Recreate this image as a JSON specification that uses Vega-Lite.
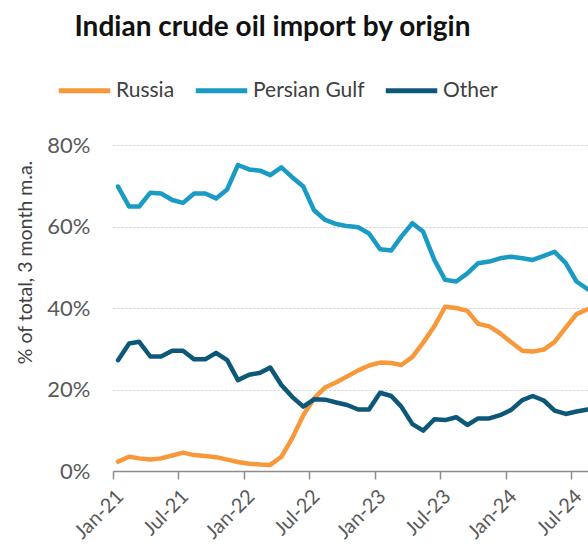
{
  "$schema": "https://vega.github.io/schema/vega-lite/v6.json",
  "width": 475,
  "height": 326,
  "autosize": {"type": "none"},
  "padding": {"left": 113, "top": 145, "right": 0, "bottom": 79},
  "background": "white",
  "config": {"view": {"stroke": null}, "font": "Lato"},
  "title": {"text": "Indian crude oil import by origin", "anchor": "middle", "frame": "group", "dx": -78, "offset": 20, "fontSize": 28, "font": "Lato", "fontWeight": "bold", "color": "#111111"},
  "datasets": {
    "series": [
      {"date": "2021-01-15", "origin": "Russia", "share": 2.3},
      {"date": "2021-02-15", "origin": "Russia", "share": 3.5},
      {"date": "2021-03-15", "origin": "Russia", "share": 3.1},
      {"date": "2021-04-15", "origin": "Russia", "share": 2.8},
      {"date": "2021-05-15", "origin": "Russia", "share": 3.1},
      {"date": "2021-06-15", "origin": "Russia", "share": 3.8},
      {"date": "2021-07-15", "origin": "Russia", "share": 4.5},
      {"date": "2021-08-15", "origin": "Russia", "share": 3.9},
      {"date": "2021-09-15", "origin": "Russia", "share": 3.7},
      {"date": "2021-10-15", "origin": "Russia", "share": 3.4},
      {"date": "2021-11-15", "origin": "Russia", "share": 2.8},
      {"date": "2021-12-15", "origin": "Russia", "share": 2.2},
      {"date": "2022-01-15", "origin": "Russia", "share": 1.8},
      {"date": "2022-02-15", "origin": "Russia", "share": 1.6},
      {"date": "2022-03-15", "origin": "Russia", "share": 1.5},
      {"date": "2022-04-15", "origin": "Russia", "share": 3.5},
      {"date": "2022-05-15", "origin": "Russia", "share": 8.0},
      {"date": "2022-06-15", "origin": "Russia", "share": 13.7},
      {"date": "2022-07-15", "origin": "Russia", "share": 17.8},
      {"date": "2022-08-15", "origin": "Russia", "share": 20.5},
      {"date": "2022-09-15", "origin": "Russia", "share": 21.8},
      {"date": "2022-10-15", "origin": "Russia", "share": 23.2},
      {"date": "2022-11-15", "origin": "Russia", "share": 24.7},
      {"date": "2022-12-15", "origin": "Russia", "share": 25.9},
      {"date": "2023-01-15", "origin": "Russia", "share": 26.6},
      {"date": "2023-02-15", "origin": "Russia", "share": 26.5},
      {"date": "2023-03-15", "origin": "Russia", "share": 26.0},
      {"date": "2023-04-15", "origin": "Russia", "share": 28.0},
      {"date": "2023-05-15", "origin": "Russia", "share": 31.5},
      {"date": "2023-06-15", "origin": "Russia", "share": 35.5},
      {"date": "2023-07-15", "origin": "Russia", "share": 40.3},
      {"date": "2023-08-15", "origin": "Russia", "share": 40.0},
      {"date": "2023-09-15", "origin": "Russia", "share": 39.3},
      {"date": "2023-10-15", "origin": "Russia", "share": 36.1},
      {"date": "2023-11-15", "origin": "Russia", "share": 35.5},
      {"date": "2023-12-15", "origin": "Russia", "share": 33.8},
      {"date": "2024-01-15", "origin": "Russia", "share": 31.6},
      {"date": "2024-02-15", "origin": "Russia", "share": 29.5},
      {"date": "2024-03-15", "origin": "Russia", "share": 29.3},
      {"date": "2024-04-15", "origin": "Russia", "share": 29.8},
      {"date": "2024-05-15", "origin": "Russia", "share": 31.7},
      {"date": "2024-06-15", "origin": "Russia", "share": 35.2},
      {"date": "2024-07-15", "origin": "Russia", "share": 38.5},
      {"date": "2024-08-15", "origin": "Russia", "share": 39.7},
      {"date": "2021-01-15", "origin": "Persian Gulf", "share": 69.8},
      {"date": "2021-02-15", "origin": "Persian Gulf", "share": 64.9},
      {"date": "2021-03-15", "origin": "Persian Gulf", "share": 64.9},
      {"date": "2021-04-15", "origin": "Persian Gulf", "share": 68.3},
      {"date": "2021-05-15", "origin": "Persian Gulf", "share": 68.1},
      {"date": "2021-06-15", "origin": "Persian Gulf", "share": 66.5},
      {"date": "2021-07-15", "origin": "Persian Gulf", "share": 65.8},
      {"date": "2021-08-15", "origin": "Persian Gulf", "share": 68.1},
      {"date": "2021-09-15", "origin": "Persian Gulf", "share": 68.1},
      {"date": "2021-10-15", "origin": "Persian Gulf", "share": 66.9},
      {"date": "2021-11-15", "origin": "Persian Gulf", "share": 69.1},
      {"date": "2021-12-15", "origin": "Persian Gulf", "share": 75.1},
      {"date": "2022-01-15", "origin": "Persian Gulf", "share": 74.0},
      {"date": "2022-02-15", "origin": "Persian Gulf", "share": 73.7},
      {"date": "2022-03-15", "origin": "Persian Gulf", "share": 72.6},
      {"date": "2022-04-15", "origin": "Persian Gulf", "share": 74.5},
      {"date": "2022-05-15", "origin": "Persian Gulf", "share": 72.1},
      {"date": "2022-06-15", "origin": "Persian Gulf", "share": 69.8},
      {"date": "2022-07-15", "origin": "Persian Gulf", "share": 64.0},
      {"date": "2022-08-15", "origin": "Persian Gulf", "share": 61.6},
      {"date": "2022-09-15", "origin": "Persian Gulf", "share": 60.6},
      {"date": "2022-10-15", "origin": "Persian Gulf", "share": 60.1},
      {"date": "2022-11-15", "origin": "Persian Gulf", "share": 59.8},
      {"date": "2022-12-15", "origin": "Persian Gulf", "share": 58.3},
      {"date": "2023-01-15", "origin": "Persian Gulf", "share": 54.4},
      {"date": "2023-02-15", "origin": "Persian Gulf", "share": 54.1},
      {"date": "2023-03-15", "origin": "Persian Gulf", "share": 57.5},
      {"date": "2023-04-15", "origin": "Persian Gulf", "share": 60.8},
      {"date": "2023-05-15", "origin": "Persian Gulf", "share": 58.7},
      {"date": "2023-06-15", "origin": "Persian Gulf", "share": 51.8},
      {"date": "2023-07-15", "origin": "Persian Gulf", "share": 46.9},
      {"date": "2023-08-15", "origin": "Persian Gulf", "share": 46.5},
      {"date": "2023-09-15", "origin": "Persian Gulf", "share": 48.5},
      {"date": "2023-10-15", "origin": "Persian Gulf", "share": 51.0},
      {"date": "2023-11-15", "origin": "Persian Gulf", "share": 51.4},
      {"date": "2023-12-15", "origin": "Persian Gulf", "share": 52.2},
      {"date": "2024-01-15", "origin": "Persian Gulf", "share": 52.6},
      {"date": "2024-02-15", "origin": "Persian Gulf", "share": 52.2},
      {"date": "2024-03-15", "origin": "Persian Gulf", "share": 51.8},
      {"date": "2024-04-15", "origin": "Persian Gulf", "share": 52.8},
      {"date": "2024-05-15", "origin": "Persian Gulf", "share": 53.8},
      {"date": "2024-06-15", "origin": "Persian Gulf", "share": 51.0},
      {"date": "2024-07-15", "origin": "Persian Gulf", "share": 46.5},
      {"date": "2024-08-15", "origin": "Persian Gulf", "share": 44.6},
      {"date": "2021-01-15", "origin": "Other", "share": 27.2},
      {"date": "2021-02-15", "origin": "Other", "share": 31.3},
      {"date": "2021-03-15", "origin": "Other", "share": 31.7},
      {"date": "2021-04-15", "origin": "Other", "share": 28.1},
      {"date": "2021-05-15", "origin": "Other", "share": 28.1},
      {"date": "2021-06-15", "origin": "Other", "share": 29.5},
      {"date": "2021-07-15", "origin": "Other", "share": 29.5},
      {"date": "2021-08-15", "origin": "Other", "share": 27.4},
      {"date": "2021-09-15", "origin": "Other", "share": 27.4},
      {"date": "2021-10-15", "origin": "Other", "share": 29.0},
      {"date": "2021-11-15", "origin": "Other", "share": 27.2},
      {"date": "2021-12-15", "origin": "Other", "share": 22.3},
      {"date": "2022-01-15", "origin": "Other", "share": 23.6},
      {"date": "2022-02-15", "origin": "Other", "share": 24.1},
      {"date": "2022-03-15", "origin": "Other", "share": 25.4},
      {"date": "2022-04-15", "origin": "Other", "share": 21.1},
      {"date": "2022-05-15", "origin": "Other", "share": 18.2},
      {"date": "2022-06-15", "origin": "Other", "share": 15.8},
      {"date": "2022-07-15", "origin": "Other", "share": 17.6},
      {"date": "2022-08-15", "origin": "Other", "share": 17.5},
      {"date": "2022-09-15", "origin": "Other", "share": 16.8},
      {"date": "2022-10-15", "origin": "Other", "share": 16.2},
      {"date": "2022-11-15", "origin": "Other", "share": 15.1},
      {"date": "2022-12-15", "origin": "Other", "share": 15.1},
      {"date": "2023-01-15", "origin": "Other", "share": 19.2},
      {"date": "2023-02-15", "origin": "Other", "share": 18.4},
      {"date": "2023-03-15", "origin": "Other", "share": 15.8},
      {"date": "2023-04-15", "origin": "Other", "share": 11.5},
      {"date": "2023-05-15", "origin": "Other", "share": 9.9},
      {"date": "2023-06-15", "origin": "Other", "share": 12.7},
      {"date": "2023-07-15", "origin": "Other", "share": 12.5},
      {"date": "2023-08-15", "origin": "Other", "share": 13.2},
      {"date": "2023-09-15", "origin": "Other", "share": 11.3},
      {"date": "2023-10-15", "origin": "Other", "share": 12.9},
      {"date": "2023-11-15", "origin": "Other", "share": 12.9},
      {"date": "2023-12-15", "origin": "Other", "share": 13.7},
      {"date": "2024-01-15", "origin": "Other", "share": 15.0},
      {"date": "2024-02-15", "origin": "Other", "share": 17.4},
      {"date": "2024-03-15", "origin": "Other", "share": 18.4},
      {"date": "2024-04-15", "origin": "Other", "share": 17.3},
      {"date": "2024-05-15", "origin": "Other", "share": 14.8},
      {"date": "2024-06-15", "origin": "Other", "share": 14.0},
      {"date": "2024-07-15", "origin": "Other", "share": 14.6},
      {"date": "2024-08-15", "origin": "Other", "share": 15.1}
    ]
  },
  "data": {"name": "series"},
  "mark": {"type": "line", "strokeWidth": 4.5, "strokeJoin": "round", "strokeCap": "round", "clip": false},
  "encoding": {
    "x": {
      "field": "date", "type": "temporal",
      "scale": {"type": "utc", "domain": [{"year": 2021, "month": 1, "date": 1, "utc": true}, {"year": 2024, "month": 8, "date": 16, "utc": true}]},
      "axis": {
        "title": null,
        "values": [
          {"year": 2021, "month": 1, "date": 1, "utc": true},
          {"year": 2021, "month": 7, "date": 1, "utc": true},
          {"year": 2022, "month": 1, "date": 1, "utc": true},
          {"year": 2022, "month": 7, "date": 1, "utc": true},
          {"year": 2023, "month": 1, "date": 1, "utc": true},
          {"year": 2023, "month": 7, "date": 1, "utc": true},
          {"year": 2024, "month": 1, "date": 1, "utc": true},
          {"year": 2024, "month": 7, "date": 1, "utc": true}
        ],
        "labelExpr": "utcFormat(datum.value, '%b-%y')",
        "labelAngle": -45, "labelFontSize": 20, "labelColor": "#595959", "labelFont": "Lato",
        "labelPadding": 7, "labelOffset": 0, "labelFlush": false, "labelOverlap": false, "labelBound": false,
        "domainColor": "#8C8C8C", "domainWidth": 1.5,
        "tickColor": "#8C8C8C", "tickWidth": 1.5, "tickSize": 8,
        "grid": false
      }
    },
    "y": {
      "field": "share", "type": "quantitative",
      "scale": {"domain": [0, 80], "nice": false},
      "axis": {
        "title": "% of total, 3 month m.a.",
        "titleFontSize": 19.5, "titleFont": "Lato", "titleFontWeight": "normal", "titleColor": "#404040",
        "titleX": -88, "titleY": 117, "titleAngle": -90, "titleAlign": "center", "titleBaseline": "middle",
        "values": [0, 20, 40, 60, 80],
        "labelExpr": "datum.value + '%'",
        "labelFontSize": 22, "labelColor": "#595959", "labelFont": "Lato", "labelPadding": 23,
        "domain": false, "ticks": false,
        "grid": true, "gridColor": "#C8C8C8", "gridDash": [2, 2], "gridWidth": 1
      }
    },
    "color": {
      "field": "origin", "type": "nominal",
      "scale": {"domain": ["Russia", "Persian Gulf", "Other"], "range": ["#F7983B", "#1A9BC3", "#0D5878"]},
      "legend": {
        "title": null, "orient": "none", "direction": "horizontal", "legendX": -57, "legendY": -83,
        "symbolType": "stroke", "symbolSize": 2650, "symbolStrokeWidth": 5,
        "labelFontSize": 21, "labelFont": "Lato", "labelColor": "#404040", "labelOffset": 3,
        "columnPadding": 10
      }
    }
  }
}
